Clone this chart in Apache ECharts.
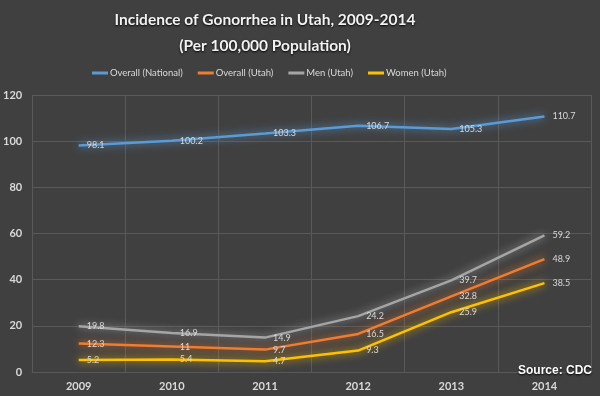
<!DOCTYPE html>
<html>
<head>
<meta charset="utf-8">
<script src="https://cdn.jsdelivr.net/npm/echarts@6/dist/echarts.min.js"></script>
<style>
  html, body { margin: 0; padding: 0; background: #404040; }
  #chart { width: 600px; height: 396px; }
</style>
</head>
<body>
<div id="chart"></div>
<script>
const years = ['2009', '2010', '2011', '2012', '2013', '2014'];
const overallNational = [98.1, 100.2, 103.3, 106.7, 105.3, 110.7];
const overallUtah = [12.3, 11, 9.7, 16.5, 32.8, 48.9];
const menUtah = [19.8, 16.9, 14.9, 24.2, 39.7, 59.2];
const womenUtah = [5.2, 5.4, 4.7, 9.3, 25.9, 38.5];

const chart = echarts.init(document.getElementById('chart'));

function makeSeries(name, data, color) {
  return {
    name: name,
    type: 'line',
    data: data,
    symbol: 'circle',
    symbolSize: 0,
    lineStyle: {
      color: color,
      width: 2.5,
      shadowColor: color,
      shadowBlur: 9
    },
    itemStyle: { color: color },
    label: {
      show: true,
      position: 'right',
      distance: 8,
      fontSize: 9,
      fontFamily: 'Lato',
      color: '#d9d9d9'
    }
  };
}

const option = {
  backgroundColor: '#404040',
  animation: false,
  title: [
    {
      text: 'Incidence of Gonorrhea in Utah, 2009-2014\n(Per 100,000 Population)',
      left: 260,
      top: 2,
      textAlign: 'center',
      textStyle: {
        color: '#f2f2f2',
        fontFamily: 'Lato',
        fontWeight: 'bold',
        fontSize: 15.5,
        lineHeight: 26,
        textShadowColor: '#000',
        textShadowBlur: 2,
        textShadowOffsetY: 1
      }
    },
    {
      text: 'Source: CDC',
      right: 3,
      top: 360,
      textStyle: {
        color: '#ffffff',
        fontFamily: 'Liberation Sans',
        fontWeight: 'bold',
        fontSize: 12,
        textShadowColor: '#000',
        textShadowBlur: 2,
        textShadowOffsetY: 1
      }
    }
  ],
  legend: {
    left: 87,
    top: 63,
    icon: 'rect',
    itemWidth: 16,
    itemHeight: 3,
    itemGap: 15,
    textStyle: { color: '#d9d9d9', fontSize: 9.5, fontFamily: 'Lato', padding: [0, 0, 0, -3] },
    data: ['Overall (National)', 'Overall (Utah)', 'Men (Utah)', 'Women (Utah)']
  },
  grid: { left: 29, right: 9, top: 95, bottom: 24 },
  xAxis: {
    type: 'category',
    data: years,
    boundaryGap: true,
    axisLine: { lineStyle: { color: '#595959' } },
    axisTick: { show: false },
    splitLine: { show: true, lineStyle: { color: '#595959' } },
    axisLabel: { color: '#d9d9d9', fontSize: 11, fontWeight: 'bold', fontFamily: 'Lato', margin: 9 }
  },
  yAxis: {
    type: 'value',
    min: 0,
    max: 120,
    interval: 20,
    axisLine: { show: false },
    axisTick: { show: false },
    splitLine: { lineStyle: { color: '#595959' } },
    axisLabel: { color: '#d9d9d9', fontSize: 11, fontWeight: 'bold', fontFamily: 'Lato', margin: 10 }
  },
  series: [
    makeSeries('Overall (National)', overallNational, '#5b9bd5'),
    makeSeries('Overall (Utah)', overallUtah, '#ed7d31'),
    makeSeries('Men (Utah)', menUtah, '#a5a5a5'),
    makeSeries('Women (Utah)', womenUtah, '#ffc000')
  ]
};

chart.setOption(option);
</script>
</body>
</html>
